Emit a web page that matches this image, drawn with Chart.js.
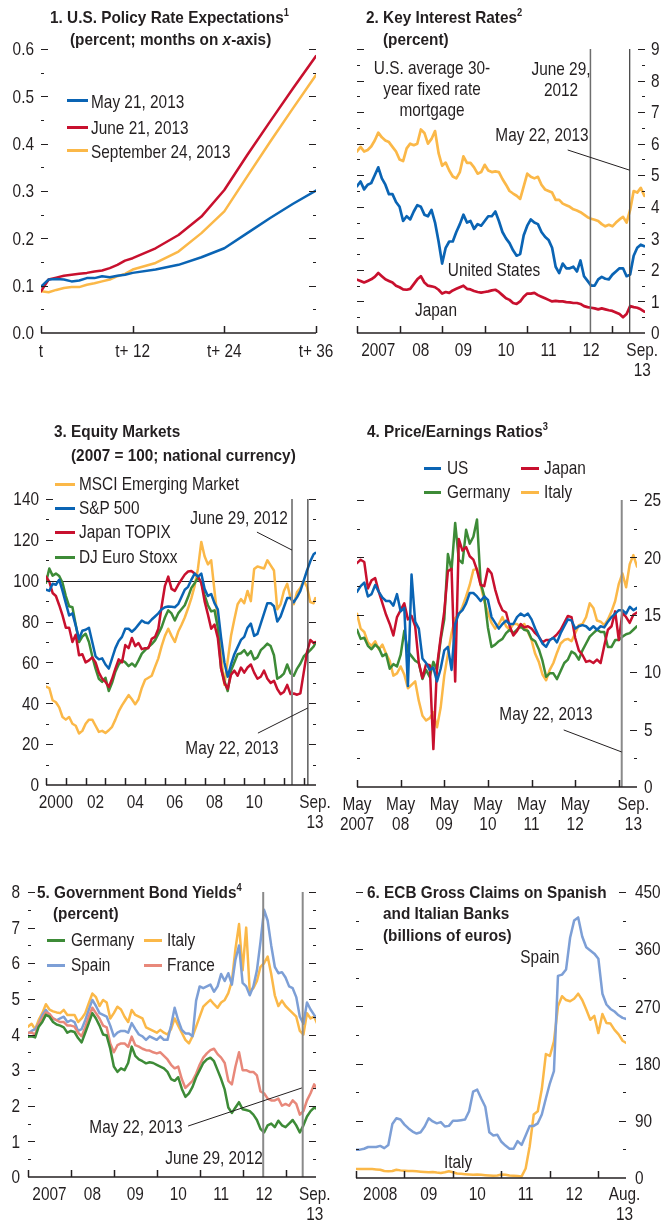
<!DOCTYPE html>
<html><head><meta charset="utf-8">
<script src="https://cdn.jsdelivr.net/npm/chart.js@4.4.0/dist/chart.umd.min.js"></script>
<style>
html,body{margin:0;padding:0;background:#fff;}
#wrap{position:relative;width:662px;height:1228px;overflow:hidden;font-family:"Liberation Sans",Arial,sans-serif;color:#231f20;}
canvas{position:absolute;}
.t{position:absolute;white-space:nowrap;font-size:19px;line-height:22px;transform-origin:0 50%;transform:scaleX(0.81);}
.h{position:absolute;white-space:nowrap;font-weight:bold;font-size:16.5px;line-height:20px;transform-origin:0 50%;transform:scaleX(0.93);}
.t.c,.h.c{transform-origin:50% 50%;transform:translateX(-50%) scaleX(0.81);}
.sw{position:absolute;height:3px;}
sup{font-size:10px;line-height:0;vertical-align:7px;}
</style></head><body><div id="wrap"></div>
<script>
// ---------------- DATA ----------------
// Panel 1: U.S. policy rate expectations (months ahead)
const p1Months = [0,1,2,3,4,5,6,7,8,9,10,11,12,15,18,21,24,27,30,33,36];
const p1May21 = [0.098,0.113,0.114,0.113,0.109,0.111,0.116,0.116,0.120,0.118,0.121,0.123,0.127,0.134,0.144,0.160,0.179,0.211,0.243,0.273,0.301];
const p1Jun21 = [0.088,0.113,0.117,0.121,0.123,0.125,0.127,0.130,0.132,0.137,0.144,0.153,0.158,0.179,0.207,0.246,0.302,0.376,0.447,0.517,0.585];
const p1Sep24 = [0.088,0.086,0.091,0.095,0.097,0.097,0.102,0.105,0.109,0.113,0.120,0.125,0.134,0.148,0.172,0.211,0.257,0.331,0.404,0.475,0.545];
const p1XTicks = [0,12,24,36];
const p1XLabels = ['t','t+ 12','t+ 24','t+ 36'];
const p1YLabels = [0,0.1,0.2,0.3,0.4,0.5,0.6];

// Panel 2: key interest rates (monthly)
const p2Months = [
"2007-01","2007-02","2007-03","2007-04","2007-05","2007-06","2007-07","2007-08","2007-09","2007-10","2007-11","2007-12",
"2008-01","2008-02","2008-03","2008-04","2008-05","2008-06","2008-07","2008-08","2008-09","2008-10","2008-11","2008-12",
"2009-01","2009-02","2009-03","2009-04","2009-05","2009-06","2009-07","2009-08","2009-09","2009-10","2009-11","2009-12",
"2010-01","2010-02","2010-03","2010-04","2010-05","2010-06","2010-07","2010-08","2010-09","2010-10","2010-11","2010-12",
"2011-01","2011-02","2011-03","2011-04","2011-05","2011-06","2011-07","2011-08","2011-09","2011-10","2011-11","2011-12",
"2012-01","2012-02","2012-03","2012-04","2012-05","2012-06","2012-07","2012-08","2012-09","2012-10","2012-11","2012-12",
"2013-01","2013-02","2013-03","2013-04","2013-05","2013-06","2013-07","2013-08","2013-09","2013-10"];
const p2Mortgage = [
5.75,5.9,5.75,5.8,5.91,6.1,6.35,6.2,6.1,6.05,5.9,5.75,
5.5,5.45,5.85,6.0,5.95,6.0,6.45,6.34,6.0,6.15,6.4,5.7,
5.3,5.4,5.15,4.96,4.9,5.1,5.6,5.39,5.39,5.25,5.05,5.1,
5.33,5.15,5.1,5.12,5.1,4.88,4.7,4.5,4.42,4.35,4.25,4.65,
5.05,4.95,4.9,4.95,4.7,4.55,4.5,4.45,4.22,4.22,4.1,4.05,
4.0,3.92,3.88,3.83,3.75,3.67,3.62,3.59,3.55,3.45,3.38,3.43,
3.38,3.5,3.6,3.68,3.5,3.9,4.5,4.45,4.6,4.35];
const p2US = [
4.65,4.8,4.55,4.7,4.75,5.0,5.25,4.9,4.7,4.4,4.4,4.15,
4.0,3.55,3.7,3.6,3.85,4.05,4.0,3.75,3.7,3.9,3.5,2.9,
2.2,2.7,2.9,2.9,3.2,3.45,3.75,3.5,3.55,3.3,3.45,3.4,
3.55,3.7,3.7,3.85,3.55,3.2,3.0,2.85,2.62,2.45,2.5,3.1,
3.4,3.6,3.5,3.45,3.2,3.05,2.95,2.7,2.1,1.9,2.2,2.05,
2.05,2.1,1.95,2.3,1.8,1.65,1.5,1.5,1.7,1.78,1.72,1.7,
1.85,1.95,2.05,2.05,1.8,1.85,2.45,2.7,2.8,2.75];
const p2Japan = [
1.69,1.65,1.6,1.65,1.7,1.78,1.9,1.8,1.7,1.65,1.6,1.5,
1.45,1.38,1.37,1.4,1.55,1.7,1.8,1.6,1.5,1.48,1.45,1.37,
1.25,1.3,1.27,1.35,1.4,1.45,1.5,1.4,1.38,1.33,1.3,1.28,
1.3,1.32,1.35,1.37,1.3,1.2,1.1,1.05,0.95,0.92,1.0,1.15,
1.25,1.25,1.27,1.2,1.15,1.1,1.05,1.0,1.02,1.0,1.0,0.98,
0.97,0.95,0.95,0.92,0.85,0.82,0.8,0.78,0.75,0.78,0.75,0.72,
0.7,0.65,0.6,0.5,0.6,0.85,0.82,0.8,0.75,0.68];
const p2YearTicks = [2007,2008,2009,2010,2011,2012,2013];
const p2LabelAt = [2007.5,2008.5,2009.5,2010.5,2011.5,2012.5,2013.7];
const p2Labels = ['2007','08','09','10','11','12',['Sep.','13']];
const p2YLabels = [0,1,2,3,4,5,6,7,8,9];

// Panel 3: equity markets (bi-monthly, 2007 = 100)
const p3Months = [
"2000-01","2000-03","2000-05","2000-07","2000-09","2000-11",
"2001-01","2001-03","2001-05","2001-07","2001-09","2001-11",
"2002-01","2002-03","2002-05","2002-07","2002-09","2002-11",
"2003-01","2003-03","2003-05","2003-07","2003-09","2003-11",
"2004-01","2004-03","2004-05","2004-07","2004-09","2004-11",
"2005-01","2005-03","2005-05","2005-07","2005-09","2005-11",
"2006-01","2006-03","2006-05","2006-07","2006-09","2006-11",
"2007-01","2007-03","2007-05","2007-07","2007-09","2007-11",
"2008-01","2008-03","2008-05","2008-07","2008-09","2008-11",
"2009-01","2009-03","2009-05","2009-07","2009-09","2009-11",
"2010-01","2010-03","2010-05","2010-07","2010-09","2010-11",
"2011-01","2011-03","2011-05","2011-07","2011-09","2011-11",
"2012-01","2012-03","2012-05","2012-07","2012-09","2012-11",
"2013-01","2013-03","2013-05","2013-07","2013-08"];
const p3MSCI = [
48.2,47.4,41.5,40.5,38,33.3, 32,33.3,30,29,25.2,26.5, 30,32,32,29,26,26.5,
25.5,26.8,28.5,32,36,39, 41.5,44,42,39.5,42,47.5, 51.5,52.5,53.5,57.8,62,68,
73,76.5,73,70,75,78.3, 82,86.5,91.5,97.5,106,119, 112,108,110,95,81,63,
49,61,73,81,88.5,91, 89,95,90,105.7,107,106.5, 106,110,107.5,105,86,88.5,
95,98.5,91.5,88.5,94.5,96.5, 100,97,89.5,89,91.5];
const p3SP500 = [
95.6,95,98.5,98,100.5,95, 89,83,84,78,71.5,75.5, 76,77,70,63,61.5,62,
59,57,62,67,70.5,72.5, 76.5,76.5,75,76.5,78.5,80.5, 79.5,79.2,81,82.5,84,86,
87,87.4,87.2,87,88.5,92, 95.6,97,100.5,103.5,102,103.5, 96,92.5,93.5,89,86,72,
60,53,59,64,67.5,71, 72.5,77,79,73,74,79, 84,89,89,87.5,80,82.5,
87,91.5,91.5,89.5,92,95, 100,105,109.5,113,113.6];
const p3TOPIX = [
102,99.5,94,92.5,88,83, 77,77,70,73.5,63.5,64, 60,61,62.5,60,55,52,
50.5,48,52,57,61.5,60, 68.5,67,72,68,69.5,66.5, 67,67,71.5,72.5,76.5,87.5,
97.5,102,96,95,98,100.5, 103,104.5,104.8,103.5,102,99, 90,83.5,76.5,78.5,72,57,
50,47,54,56,53.5,57.5, 55,57.5,59,55,52,53, 56,52,50,51,47,44.5,
45.5,49,44.5,44.8,44.2,44.9, 55,65,71,69.5,70];
const p3Stoxx = [
99,106,102.5,103.5,102.3,99, 92.5,87.5,87,78.5,70,72.7, 74,70,63,57,52,50.5,
52.5,46,50,55.5,59,61, 60,58.2,59.5,58,61,64.3, 66,67.5,69,70.8,74,77.3,
82,85.5,84,80.5,84,86, 88,92,96.5,98.8,101.5,99, 93,88,85,85.5,77,57,
51,46,56,60,64,64.5, 66,63.5,65.5,61.5,62.5,66, 67.5,69.2,68,63.5,52,53,
54.5,59,54.7,53.5,57,59.5, 62.9,64.5,66,67.8,69.4];
const p3YearTicks = [2000,2001,2002,2003,2004,2005,2006,2007,2008,2009,2010,2011,2012,2013];
const p3LabelAt = [2000.5,2002.5,2004.5,2006.5,2008.5,2010.5,2013.57];
const p3Labels = ['2000','02','04','06','08','10',['Sep.','13']];
const p3YLabels = [0,20,40,60,80,100,120,140];

// Panel 4: price/earnings ratios (monthly)
const p4Months = [
"2007-05","2007-06","2007-07","2007-08","2007-09","2007-10","2007-11","2007-12",
"2008-01","2008-02","2008-03","2008-04","2008-05","2008-06","2008-07","2008-08","2008-09","2008-10","2008-11","2008-12",
"2009-01","2009-02","2009-03","2009-04","2009-05","2009-06","2009-07","2009-08","2009-09","2009-10","2009-11","2009-12",
"2010-01","2010-02","2010-03","2010-04","2010-05","2010-06","2010-07","2010-08","2010-09","2010-10","2010-11","2010-12",
"2011-01","2011-02","2011-03","2011-04","2011-05","2011-06","2011-07","2011-08","2011-09","2011-10","2011-11","2011-12",
"2012-01","2012-02","2012-03","2012-04","2012-05","2012-06","2012-07","2012-08","2012-09","2012-10","2012-11","2012-12",
"2013-01","2013-02","2013-03","2013-04","2013-05","2013-06","2013-07","2013-08","2013-09","2013-10"];
const p4US = [
17.0,17.5,17.8,16.6,16.8,17.6,17.0,16.5,
16.2,16.2,15.8,16.8,15.3,15.6,8.8,18.5,14.4,13.8,11.2,10.8,
10.2,10.4,9.2,10.3,11.9,12.2,10.2,14.2,15.1,15.4,16.0,16.9,
16.9,16.6,16.2,16.6,16.3,14.8,14.3,13.8,14.2,14.5,14.2,14.2,
14.8,15.1,14.9,15.1,14.6,13.8,13.1,12.5,12.2,12.8,13.0,12.6,
13.4,14.0,14.6,14.5,13.8,14.0,14.1,14.0,13.7,14.0,13.7,14.0,
13.9,14.4,14.8,15.1,15.4,15.4,15.1,15.7,15.4,15.6];
const p4Japan = [
19.5,19.8,19.6,17.3,18.0,18.2,17.0,16.0,
15.0,14.2,13.2,14.8,15.4,16.0,14.6,14.9,14.0,10.8,9.5,10.7,
10.6,3.3,10.5,13.0,15.3,18.8,19.0,9.2,21.6,20.6,20.9,20.1,
19.8,18.9,17.6,17.5,19.0,18.6,17.2,16.1,15.4,15.2,14.0,13.2,
13.6,14.2,13.9,14.0,13.8,13.4,13.1,12.6,12.8,12.8,13.0,13.3,
13.7,14.3,14.9,14.8,13.0,11.9,11.5,10.9,11.0,10.8,11.1,10.8,
12.3,13.7,14.0,15.3,12.8,15.2,14.8,14.3,15.0,15.2];
const p4Germany = [
13.7,12.9,13.0,12.3,12.0,12.4,12.1,11.4,
11.6,10.3,10.7,10.5,11.5,13.6,11.8,11.4,11.0,10.8,9.4,10.2,
9.6,10.9,10.2,12.8,14.6,20.3,18.9,23.0,19.8,19.5,22.4,21.2,
21.8,23.3,17.8,16.6,13.9,12.2,12.4,12.7,12.9,13.4,13.7,13.4,
13.7,14.0,13.7,13.6,12.9,12.7,12.0,11.0,9.6,9.9,9.9,9.4,
10.1,10.8,11.1,11.8,11.6,11.1,11.9,12.5,13.1,13.4,13.7,13.5,
13.5,12.2,12.2,12.8,12.8,13.1,13.3,13.4,13.7,14.0];
const p4Italy = [
15.1,13.8,13.5,12.6,12.3,12.7,12.0,12.4,
11.6,11.0,9.7,9.9,10.5,9.8,8.6,8.9,9.2,7.5,6.2,5.8,
6.0,6.5,5.2,6.9,9.7,11.6,13.4,14.7,15.0,15.7,16.6,17.6,
18.9,19.0,17.6,16.2,15.2,14.3,13.8,14.2,14.8,14.0,13.7,14.2,
14.2,13.9,14.2,13.5,12.8,11.6,10.9,9.8,9.3,10.2,10.8,11.7,
12.5,12.8,12.9,12.7,13.4,14.1,14.2,14.8,16.0,15.6,14.5,14.4,
14.1,14.6,15.3,16.2,17.7,18.6,17.4,19.4,20.2,19.2];
const p4TickAt = [2007+4/12,2008+4/12,2009+4/12,2010+4/12,2011+4/12,2012+4/12,2013+4/12];
const p4LabelAt = [2007+4/12,2008+4/12,2009+4/12,2010+4/12,2011+4/12,2012+4/12,2013.667];
const p4Labels = [['May','2007'],['May','08'],['May','09'],['May','10'],['May','11'],['May','12'],['Sep.','13']];
const p4YLabels = [0,5,10,15,20,25];

// Panel 5: government bond yields (monthly)
const p5Months = p2Months;
const p5Germany = [
3.94,3.95,3.92,4.22,4.35,4.55,4.5,4.35,4.28,4.25,4.2,4.05,
4.1,4.07,3.9,3.78,4.05,4.32,4.6,4.45,4.25,4.0,3.97,3.6,
3.1,2.95,3.05,3.0,3.2,3.66,3.4,3.3,3.25,3.19,3.22,3.2,
3.15,3.1,3.05,2.95,2.75,2.7,2.8,2.48,2.25,2.35,2.53,2.8,
3.0,3.2,3.3,3.35,3.25,3.0,2.75,2.45,1.95,1.8,1.95,2.1,
1.9,1.88,1.85,1.75,1.6,1.35,1.25,1.45,1.5,1.4,1.58,1.45,
1.4,1.5,1.6,1.45,1.25,1.45,1.7,1.85,1.95,1.9];
const p5Italy = [
4.22,4.3,4.15,4.41,4.6,4.85,4.7,4.65,4.62,4.6,4.69,4.55,
4.55,4.55,4.35,4.45,4.6,4.88,5.15,5.05,4.8,4.97,4.9,4.45,
4.6,4.78,4.7,4.5,4.35,4.69,4.55,4.5,4.45,4.2,4.15,4.1,
4.05,4.13,4.05,4.0,4.15,4.45,4.25,4.05,3.85,3.75,3.95,4.22,
4.5,4.78,4.88,4.97,4.85,4.75,4.9,4.97,5.16,5.5,6.4,7.1,
5.8,7.0,5.2,5.3,5.5,5.9,6.0,6.19,5.7,5.1,4.8,4.95,
4.8,4.7,4.6,4.5,4.1,4.0,4.6,4.45,4.5,4.27];
const p5Spain = [
4.03,4.1,4.15,4.3,4.55,4.69,4.55,4.45,4.4,4.45,4.5,4.35,
4.4,4.35,4.1,4.15,4.4,4.69,4.97,4.8,4.6,4.55,4.5,4.25,
3.95,4.05,4.1,4.1,4.05,4.32,4.15,4.0,3.95,3.85,3.95,3.9,
3.85,3.95,3.85,3.85,4.25,4.75,4.4,4.13,4.03,4.03,3.95,4.95,
5.35,5.3,5.35,5.4,5.2,5.35,5.7,5.5,5.72,5.4,6.1,6.5,
5.45,5.35,5.1,5.35,5.8,6.6,7.5,7.2,6.5,5.9,5.72,5.75,
5.6,5.35,5.3,5.05,4.5,4.3,4.9,4.7,4.55,4.41];
const p5France = [
4.05,4.05,4.0,4.3,4.45,4.62,4.58,4.45,4.4,4.35,4.35,4.25,
4.25,4.22,4.05,3.95,4.2,4.5,4.75,4.6,4.45,4.25,4.2,3.75,
3.5,3.7,3.75,3.75,3.65,3.94,3.7,3.66,3.6,3.56,3.55,3.5,
3.47,3.5,3.4,3.3,3.15,3.05,3.1,2.75,2.5,2.6,2.7,2.9,
3.15,3.35,3.47,3.56,3.6,3.45,3.35,3.2,2.7,2.6,3.1,3.5,
3.0,3.0,2.95,2.95,2.85,2.4,2.35,2.2,2.15,2.15,2.2,2.0,
2.05,2.0,2.15,2.05,1.75,1.85,2.15,2.35,2.6,2.44];
const p5YearTicks = [2007,2008,2009,2010,2011,2012,2013];
const p5LabelAt = [2007.5,2008.5,2009.5,2010.5,2011.5,2012.5,2013.68];
const p5Labels = ['2007','08','09','10','11','12',['Sep.','13']];
const p5YLabels = [0,1,2,3,4,5,6,7,8];

// Panel 6: ECB gross claims (monthly, billions of euros)
const p6Months = [
"2008-01","2008-02","2008-03","2008-04","2008-05","2008-06","2008-07","2008-08","2008-09","2008-10","2008-11","2008-12",
"2009-01","2009-02","2009-03","2009-04","2009-05","2009-06","2009-07","2009-08","2009-09","2009-10","2009-11","2009-12",
"2010-01","2010-02","2010-03","2010-04","2010-05","2010-06","2010-07","2010-08","2010-09","2010-10","2010-11","2010-12",
"2011-01","2011-02","2011-03","2011-04","2011-05","2011-06","2011-07","2011-08","2011-09","2011-10","2011-11","2011-12",
"2012-01","2012-02","2012-03","2012-04","2012-05","2012-06","2012-07","2012-08","2012-09","2012-10","2012-11","2012-12",
"2013-01","2013-02","2013-03","2013-04","2013-05","2013-06","2013-07","2013-08"];
const p6Spain = [
44.6,44.6,46,48.8,48.8,48.8,50.5,47,52,85,94,92,
84,78,73,70,72,81,94,89,86,88,81,82,
90,90,91,92,105,136,139,125,112,72,67,68,
57,51,46,46,58,52,67,82,82,86,100,125,
149,168,318,320,328,378,405,410,380,363,358,353,
345,290,273,266,262,256,252,250];
const p6Italy = [
14,14,14,14,14,13.5,13,11,10.5,11,13,12,
11.5,11,11,10.5,10,9.5,9,9.5,8.5,8,9,10.5,
9,7,6.5,6,5.5,5,5.5,5,4.5,4,3.5,4,
5.5,5,4,3.5,3,2.5,15,50,100,105,140,195,
192,215,270,286,280,278,282,290,280,265,249,255,
228,258,244,243,233,226,216,212];
const p6YearTicks = [2008,2009,2010,2011,2012,2013];
const p6LabelAt = [2008.5,2009.5,2010.5,2011.5,2012.5,2013.54];
const p6Labels = ['2008','09','10','11','12',['Aug.','13']];
const p6YLabels = [0,90,180,270,360,450];

// ---------------- RENDERING ----------------
const FONT = '"Liberation Sans",Arial,sans-serif';
const LABEL_FONT = '19px "Liberation Sans", Arial, sans-serif';
const SQUEEZE = 0.81;
const INK = '#231f20';
const BLUE='#0a64b4', RED='#c8102e', GOLD='#fbb848', GREEN='#3d8b37', LBLUE='#7d9fd6', SALMON='#e8887a';
const wrap = document.getElementById('wrap');
Chart.defaults.font.family = FONT;
Chart.defaults.color = INK;

function ym(s){ if(typeof s!=='string') return s; const p=s.split('-'); return +p[0]+(+p[1]-1)/12; }

function label(ctx,text,x,y,align){
  ctx.save();
  ctx.font=LABEL_FONT; ctx.fillStyle=INK; ctx.textBaseline='middle'; ctx.textAlign=align;
  ctx.translate(x,y); ctx.scale(SQUEEZE,1); ctx.fillText(text,0,0);
  ctx.restore();
}

function decorPlugin(o){
  return {
    id:'decor',
    beforeDatasetsDraw(chart){
      const ctx=chart.ctx, a=chart.chartArea, ys=chart.scales.y;
      ctx.save(); ctx.strokeStyle=INK; ctx.lineWidth=1;
      (o.hLines||[]).forEach(v=>{const y=Math.round(ys.getPixelForValue(v))+0.5; ctx.beginPath(); ctx.moveTo(a.left,y); ctx.lineTo(a.right,y); ctx.stroke();});
      ctx.restore();
    },
    afterDatasetsDraw(chart){
      const ctx=chart.ctx, a=chart.chartArea, xs=chart.scales.x, ys=chart.scales.y;
      ctx.save();
      (o.vLines||[]).forEach(l=>{const x=xs.getPixelForValue(l.x); ctx.strokeStyle=l.color; ctx.lineWidth=l.w; ctx.beginPath(); ctx.moveTo(x,a.top); ctx.lineTo(x,a.bottom); ctx.stroke();});
      ctx.strokeStyle=INK; ctx.lineWidth=1.2;
      const n=Math.round((o.ymax-o.ymin)/o.minor);
      for(let i=1;i<=n;i++){
        const v=o.ymin+i*o.minor; const r=v/o.major; const major=Math.abs(r-Math.round(r))<1e-6;
        const len=major?7:3; const y=Math.round(ys.getPixelForValue(v))+0.5;
        ctx.beginPath(); ctx.moveTo(a.left,y); ctx.lineTo(a.left+len,y); ctx.moveTo(a.right,y); ctx.lineTo(a.right-len,y); ctx.stroke();
      }
      ctx.lineWidth=1.5; const yb=a.bottom;
      ctx.beginPath(); ctx.moveTo(a.left,yb); ctx.lineTo(a.right,yb); ctx.stroke();
      o.xTicks.forEach(v=>{const x=Math.round(xs.getPixelForValue(v))+0.5; ctx.beginPath(); ctx.moveTo(x,yb); ctx.lineTo(x,yb-7); ctx.stroke();});
      ctx.lineWidth=1;
      (o.leaders||[]).forEach(L=>{ctx.beginPath(); ctx.moveTo(xs.getPixelForValue(L[0]),ys.getPixelForValue(L[1])); ctx.lineTo(xs.getPixelForValue(L[2]),ys.getPixelForValue(L[3])); ctx.stroke();});
      ctx.restore();
      // axis labels, positioned by the chart's scales
      const fmt=o.yFmt||(v=>String(v));
      o.xLabelAt.forEach((v,i)=>{
        const lab=o.xLabels[i]; const lines=Array.isArray(lab)?lab:[lab];
        const x=xs.getPixelForValue(v);
        lines.forEach((ln,j)=>label(ctx,ln,x,a.bottom+o.xDy+j*20,'center'));
      });
      o.yLabels.forEach(v=>{
        const y=ys.getPixelForValue(v)+1;
        if(o.ySide==='left') label(ctx,fmt(v),a.left-o.yPad,y,'right');
        else label(ctx,fmt(v),a.right+o.yPad,y,'left');
      });
    }
  };
}

function panel(o){
  const cv=document.createElement('canvas');
  cv.width=o.w; cv.height=o.h;
  cv.style.left=o.left+'px'; cv.style.top=o.top+'px'; cv.style.width=o.w+'px'; cv.style.height=o.h+'px';
  wrap.appendChild(cv);
  const yAxis=(pos,width)=>({
    type:'linear',position:pos,min:o.ymin,max:o.ymax,
    grid:{display:false,drawTicks:false},border:{display:false},
    afterFit(s){s.width=width;},
    ticks:{display:false}
  });
  new Chart(cv,{
    type:'line',
    data:{datasets:o.series.map(s=>({
      data:s.x.map((m,i)=>({x:ym(m),y:s.y[i]})),
      borderColor:s.color,borderWidth:s.width||2.5,pointRadius:0,tension:0,fill:false,
      borderJoinStyle:'round',borderCapStyle:'round'}))},
    options:{
      responsive:false,animation:false,devicePixelRatio:1,events:[],
      layout:{padding:{top:o.padTop,left:0,right:0,bottom:0}},
      plugins:{legend:{display:false},tooltip:{enabled:false}},
      scales:{
        x:{type:'linear',position:'bottom',min:o.xmin,max:o.xmax,
          grid:{display:false,drawTicks:false},border:{display:false},
          afterFit(s){s.height=o.bottomH;},
          ticks:{display:false}},
        y:yAxis('left',o.leftW),
        y2:yAxis('right',o.rightW)
      }
    },
    plugins:[decorPlugin(o)]
  });
}

function T(x,yc,html,opt){
  opt=opt||{};
  const d=document.createElement('div');
  d.className=(opt.h?'h':'t')+(opt.c?' c':'');
  d.style.left=x+'px'; d.style.top=(yc-(opt.h?10:11))+'px';
  d.innerHTML=html; wrap.appendChild(d);
}
function S(x1,x2,yc,color){
  const d=document.createElement('div'); d.className='sw';
  d.style.left=x1+'px'; d.style.width=(x2-x1)+'px'; d.style.top=(yc-1.5)+'px'; d.style.background=color;
  wrap.appendChild(d);
}

// Panel 1
panel({left:0,top:0,w:345,h:380,padTop:49,leftW:41,rightW:29,bottomH:47,
  xmin:0,xmax:36,xTicks:p1XTicks,xLabelAt:p1XTicks,xLabels:p1XLabels,xDy:19,
  ymin:0,ymax:0.6,yLabels:p1YLabels,ySide:'left',yPad:7,yFmt:v=>v.toFixed(1),minor:0.05,major:0.1,
  series:[{x:p1Months,y:p1May21,color:BLUE},{x:p1Months,y:p1Jun21,color:RED},{x:p1Months,y:p1Sep24,color:GOLD}]});
T(50,17,'1. U.S. Policy Rate Expectations<sup>1</sup>',{h:1});
T(70,39,'(percent; months on <i>x</i>-axis)',{h:1});
S(67,88,100,BLUE); T(91,102,'May 21, 2013');
S(67,88,127,RED); T(91,128,'June 21, 2013');
S(67,88,150,GOLD); T(91,152,'September 24, 2013');

// Panel 2
panel({left:331,top:0,w:331,h:380,padTop:49,leftW:26,rightW:17,bottomH:47,
  xmin:2007,xmax:2013.766,xTicks:p2YearTicks,xLabelAt:p2LabelAt,xLabels:p2Labels,xDy:18,
  ymin:0,ymax:9,yLabels:p2YLabels,ySide:'right',yPad:6,minor:0.5,major:1,
  vLines:[{x:2012.484,color:'#6e6e6e',w:1.5},{x:2013.406,color:'#4a4a4a',w:1.3}],
  leaders:[[2011.95,5.8,2013.406,5.16]],
  series:[{x:p2Months,y:p2US,color:BLUE,width:2.7},{x:p2Months,y:p2Mortgage,color:GOLD,width:2.7},{x:p2Months,y:p2Japan,color:RED,width:2.7}]});
T(366,17,'2. Key Interest Rates<sup>2</sup>',{h:1});
T(383,39,'(percent)',{h:1});
T(432,68,'U.S. average 30-',{c:1}); T(432,89,'year fixed rate',{c:1}); T(432,110,'mortgage',{c:1});
T(561,69,'June 29,',{c:1}); T(561,90,'2012',{c:1});
T(542,135,'May 22, 2013',{c:1});
T(494,270,'United States',{c:1});
T(436,310,'Japan',{c:1});

// Panel 3
panel({left:0,top:410,w:345,h:420,padTop:89,leftW:46,rightW:29,bottomH:45,
  xmin:2000,xmax:2013.62,xTicks:p3YearTicks,xLabelAt:p3LabelAt,xLabels:p3Labels,xDy:18,
  ymin:0,ymax:140,yLabels:p3YLabels,ySide:'left',yPad:7,minor:10,major:20,hLines:[100],
  vLines:[{x:2012.41,color:'#8a8a8a',w:2},{x:2013.21,color:'#333333',w:1.2}],
  leaders:[[2010.64,123.8,2012.41,115],[2010.69,25.4,2013.21,37.7]],
  series:[{x:p3Months,y:p3SP500,color:BLUE},{x:p3Months,y:p3TOPIX,color:RED},{x:p3Months,y:p3Stoxx,color:GREEN},{x:p3Months,y:p3MSCI,color:GOLD}]});
T(54,431,'3. Equity Markets',{h:1});
T(71,455,'(2007 = 100; national currency)',{h:1});
S(55,75,484,GOLD); T(79,484,'MSCI Emerging Market');
S(55,75,508,BLUE); T(79,508,'S&amp;P 500');
S(55,75,532,RED); T(79,532,'Japan TOPIX');
S(55,75,557,GREEN); T(79,557,'DJ Euro Stoxx');
T(239,518,'June 29, 2012',{c:1});
T(232,748,'May 22, 2013',{c:1});

// Panel 4
panel({left:331,top:410,w:331,h:420,padTop:90,leftW:26,rightW:25,bottomH:43,
  xmin:2007+4/12,xmax:2013.75,xTicks:p4TickAt,xLabelAt:p4LabelAt,xLabels:p4Labels,xDy:18,
  ymin:0,ymax:25,yLabels:p4YLabels,ySide:'right',yPad:7,minor:2.5,major:5,
  vLines:[{x:2013.40,color:'#8a8a8a',w:2}],
  leaders:[[2012.07,4.97,2013.40,3.05]],
  series:[{x:p4Months,y:p4US,color:BLUE},{x:p4Months,y:p4Japan,color:RED},{x:p4Months,y:p4Germany,color:GREEN},{x:p4Months,y:p4Italy,color:GOLD}]});
T(367,431,'4. Price/Earnings Ratios<sup>3</sup>',{h:1});
S(424,441,468,BLUE); T(447,468,'US');
S(521,539,468,RED); T(544,468,'Japan');
S(424,441,492,GREEN); T(447,492,'Germany');
S(521,539,492,GOLD); T(544,492,'Italy');
T(546,714,'May 22, 2013',{c:1});

// Panel 5
panel({left:0,top:860,w:345,h:368,padTop:32,leftW:28,rightW:29,bottomH:51,
  xmin:2007,xmax:2013.71,xTicks:p5YearTicks,xLabelAt:p5LabelAt,xLabels:p5Labels,xDy:18,
  ymin:0,ymax:8,yLabels:p5YLabels,ySide:'left',yPad:8,minor:0.5,major:1,
  vLines:[{x:2012.48,color:'#8a8a8a',w:2},{x:2013.40,color:'#8a8a8a',w:2}],
  leaders:[[2010.73,1.43,2013.38,2.5]],
  series:[{x:p5Months,y:p5Germany,color:GREEN},{x:p5Months,y:p5France,color:SALMON},{x:p5Months,y:p5Spain,color:LBLUE},{x:p5Months,y:p5Italy,color:GOLD}]});
T(37,892,'5. Government Bond Yields<sup>4</sup>',{h:1});
T(53,913,'(percent)',{h:1});
S(47,65,940,GREEN); T(71,940,'Germany');
S(144,162,940,GOLD); T(167,940,'Italy');
S(47,65,965,LBLUE); T(71,965,'Spain');
S(144,162,965,SALMON); T(167,965,'France');
T(136,1127,'May 22, 2013',{c:1});
T(214,1158,'June 29, 2012',{c:1});

// Panel 6
panel({left:331,top:860,w:331,h:368,padTop:32,leftW:25,rightW:36,bottomH:50,
  xmin:2008,xmax:2013.57,xTicks:p6YearTicks,xLabelAt:p6LabelAt,xLabels:p6Labels,xDy:17,
  ymin:0,ymax:450,yLabels:p6YLabels,ySide:'right',yPad:9,minor:45,major:90,
  series:[{x:p6Months,y:p6Spain,color:LBLUE},{x:p6Months,y:p6Italy,color:GOLD}]});
T(367,892,'6. ECB Gross Claims on Spanish',{h:1});
T(383,913,'and Italian Banks',{h:1});
T(383,935,'(billions of euros)',{h:1});
T(540,957,'Spain',{c:1});
T(458,1162,'Italy',{c:1});
</script></body></html>
